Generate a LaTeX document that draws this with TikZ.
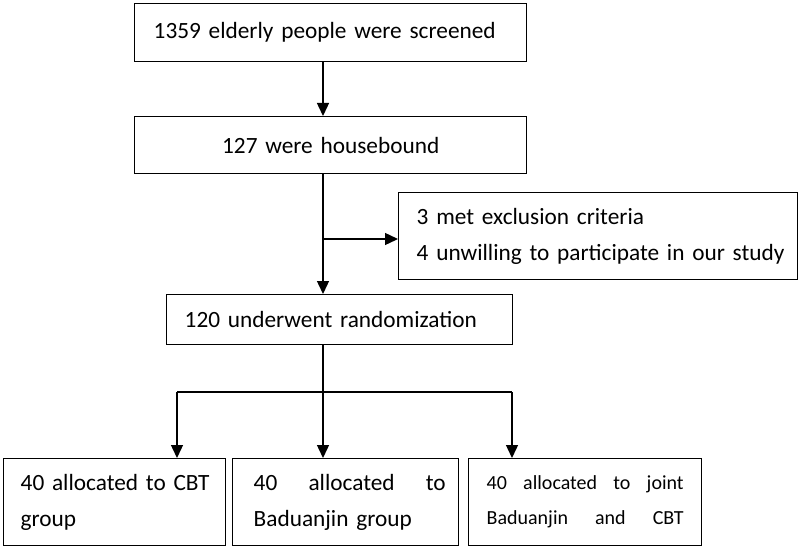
\documentclass[tikz,border=0pt]{standalone}
\usepackage{fontspec}
\setmainfont{Carlito}
\usetikzlibrary{arrows.meta}
\newcommand\fsbig{\fontsize{23.3}{36}\selectfont}
\newcommand\fssmall{\fontsize{20}{35}\selectfont}
\begin{document}
\begin{tikzpicture}[x=1pt,y=-1pt,
  box/.style={draw, line width=1.4pt, anchor=north west, inner ysep=0pt, align=left, font=\fsbig},
  conn/.style={line width=1.4pt},
  arr/.style={line width=1.4pt, -{Triangle[length=13pt,width=12pt]}}]
\useasboundingbox (0,0) rectangle (800,548);
% boxes
\node[box, inner xsep=19pt, text width=354pt, minimum height=58pt] (b1) at (134,3) {\mbox{1359 elderly people were screened}};
\node[box, inner xsep=19pt, text width=354pt, minimum height=57pt, align=center] (b2) at (134,116) {\mbox{127 were housebound}};
\node[box, inner xsep=18pt, text width=363pt, minimum height=87pt] (b4) at (398,192) {\mbox{3 met exclusion criteria}\\\mbox{4 unwilling to participate in our study}};
\node[box, inner xsep=18pt, text width=310pt, minimum height=50pt] (b3) at (166,294) {\mbox{120 underwent randomization}};
\node[box, inner xsep=17pt, text width=188pt, minimum height=87pt] (b5) at (3,458) {\mbox{40 allocated to CBT}\\group};
\node[box, inner xsep=21pt, text width=184pt, minimum height=87pt] (b6) at (232,458) {\hbox to 192pt{40\hfill allocated\hfill to}\\\mbox{Baduanjin group}};
\node[box, inner xsep=18pt, text width=197pt, minimum height=87pt, font=\fssmall] (b7) at (468,458) {\hbox to 197pt{40\hfill allocated\hfill to\hfill joint}\\\hbox to 197pt{Baduanjin\hfill and\hfill CBT}};
% junctions
\coordinate (j1) at (323,239);
\coordinate (j2) at (323,392);
\coordinate (jl) at (177,392);
\coordinate (jr) at (512,392);
% connectors
\draw[arr] (b1.south -| j1) -- (b2.north -| j1);
\draw[arr] (b2.south -| j1) -- (b3.north -| j1);
\draw[arr] (j1) -- (j1 -| b4.west);
\draw[conn] (b3.south -| j2) -- (j2);
\draw[conn] (jl) -- (jr);
\draw[arr] (jl) -- (b5.north -| jl);
\draw[arr] (j2) -- (b6.north -| j2);
\draw[arr] (jr) -- (b7.north -| jr);
\end{tikzpicture}
\end{document}
